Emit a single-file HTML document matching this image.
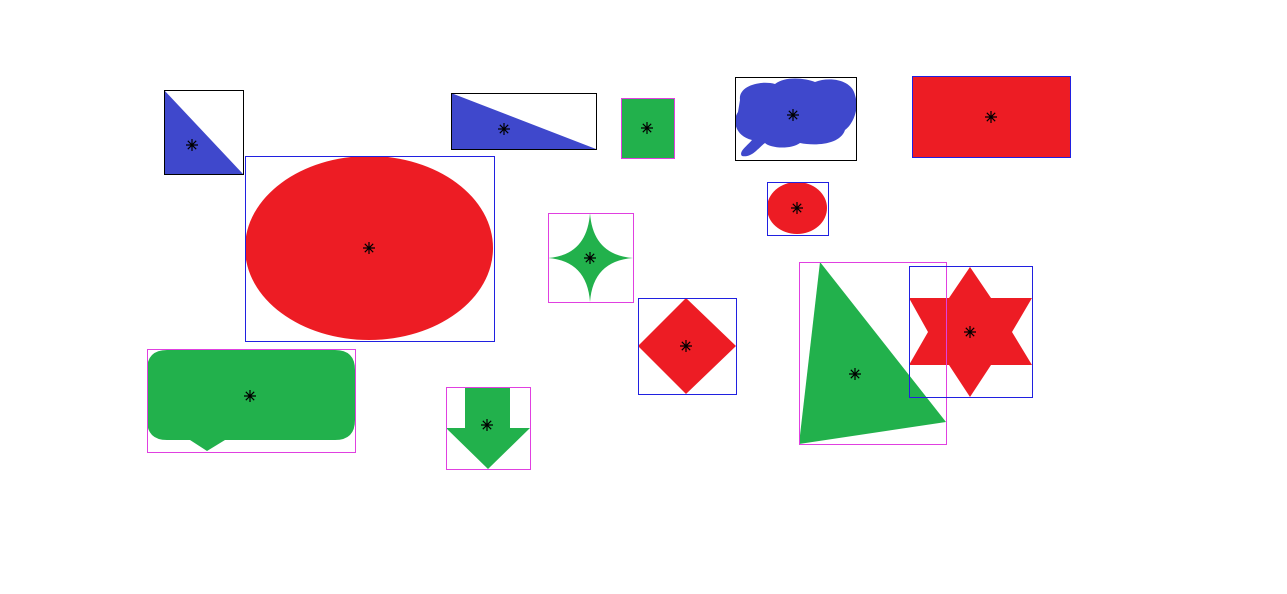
<!DOCTYPE html>
<html><head><meta charset="utf-8"><style>html,body{margin:0;padding:0;background:#fff;}svg{display:block}</style></head>
<body>
<svg id="c" width="1287" height="594" viewBox="0 0 1287 594" xmlns="http://www.w3.org/2000/svg">
<g fill="#3f48cc">
<polygon points="164,90 243,174 164,174"/>
<polygon points="451,93 596,149 451,149"/>
<path d="M740,100 C738,86 760,80 775,84 C785,76 805,78 815,82 C830,76 852,80 855,95 C860,110 852,125 845,130 C840,145 815,146 800,143 C790,150 770,148 765,143 C758,148 752,158 742,156 C738,152 748,145 752,140 C735,136 732,120 738,112 Z"/>
</g>
<g fill="#ed1c24">
<rect x="912" y="76" width="158" height="81"/>
<ellipse cx="369" cy="248" rx="124" ry="92"/>
<ellipse cx="797" cy="208" rx="30" ry="26"/>
<polygon points="686,298 736,346 686,394 638,346"/>
</g>
<g fill="#22b14c">
<rect x="621" y="98" width="53" height="60"/>
<path d="M590,213 Q593,255 633,258 Q593,261 590,302 Q587,261 548,258 Q587,255 590,213 Z"/>
<polygon points="820,262 946,422 799,444"/>
<path d="M167,350 H335 Q355,350 355,370 V420 Q355,440 335,440 H225 L207,451 L190,440 H167 Q147,440 147,420 V370 Q147,350 167,350 Z"/>
<polygon points="465,387 510,387 510,428 530,428 488,469 446,428 465,428"/>
</g>
<polygon fill="#ed1c24" points="970,267 991,298 1032,298 1012,332 1032,365 991,365 970,397 949,365 909,365 928,332 909,298 949,298"/>
<g fill="none" stroke-width="1">
<rect stroke="#000" x="164.5" y="90.5" width="79" height="84"/>
<rect stroke="#000" x="451.5" y="93.5" width="145" height="56"/>
<rect stroke="#e040e0" x="621.5" y="98.5" width="53" height="60"/>
<rect stroke="#000" x="735.5" y="77.5" width="121" height="83"/>
<rect stroke="#2020e0" x="912.5" y="76.5" width="158" height="81"/>
<rect stroke="#2020e0" x="245.5" y="156.5" width="249" height="185"/>
<rect stroke="#2020e0" x="767.5" y="182.5" width="61" height="53"/>
<rect stroke="#e040e0" x="548.5" y="213.5" width="85" height="89"/>
<rect stroke="#2020e0" x="638.5" y="298.5" width="98" height="96"/>
<rect stroke="#e040e0" x="799.5" y="262.5" width="147" height="182"/>
<rect stroke="#2020e0" x="909.5" y="266.5" width="123" height="131"/>
<rect stroke="#e040e0" x="147.5" y="349.5" width="208" height="103"/>
<rect stroke="#e040e0" x="446.5" y="387.5" width="84" height="82"/>
</g>
<g id="stars" stroke="#000" stroke-width="1.2"></g>
</svg>
<script>
const cx=[192,504,647,793,991,369,797,590,686,855,970,250,487];
const cy=[145,129,128,115,117,248,208,258,346,374,332,396,425];
const g=document.getElementById('stars');
for(let i=0;i<cx.length;i++){
  const s=document.createElementNS('http://www.w3.org/2000/svg','path');
  
  
  const x=cx[i],y=cy[i],r=6,d=4.2;
  s.setAttribute('d',`M${x-r},${y}H${x+r}M${x},${y-r}V${y+r}M${x-d},${y-d}L${x+d},${y+d}M${x-d},${y+d}L${x+d},${y-d}`);
  g.appendChild(s);
}
</script>
</body></html>
